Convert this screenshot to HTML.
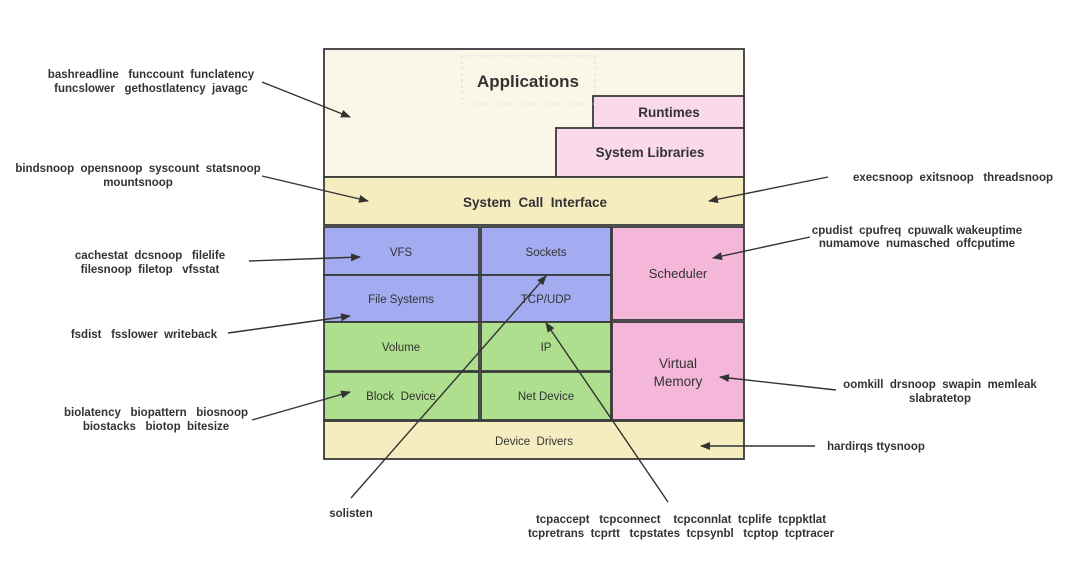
<!DOCTYPE html>
<html><head><meta charset="utf-8"><style>
html,body{margin:0;padding:0;background:#fff;}
svg{display:block;}
text{font-family:"Liberation Sans",sans-serif;fill:#333;}
.b{font-weight:bold;font-size:11.5px;}
</style></head><body>
<svg width="1080" height="570" viewBox="0 0 1080 570" xmlns="http://www.w3.org/2000/svg">
<defs><marker id="a" markerWidth="10" markerHeight="8" refX="9" refY="4" orient="auto" markerUnits="userSpaceOnUse"><path d="M0,0 L10,4 L0,8 Z" fill="#333"/></marker></defs>
<g stroke="#3a3a3a" stroke-width="1.8">
<rect x="324" y="49" width="420" height="128" fill="#fbf7e8"/>
<rect x="593" y="96" width="151" height="32" fill="#f9d9ea"/>
<rect x="556" y="128" width="188" height="49" fill="#f9d9ea"/>
<rect x="324" y="177" width="420" height="48" fill="#f5edbf"/>
<rect x="324" y="227" width="155" height="48" fill="#a3acf0"/>
<rect x="324" y="275" width="155" height="47" fill="#a3acf0"/>
<rect x="324" y="322" width="155" height="49" fill="#addf8e"/>
<rect x="324" y="372" width="155" height="48" fill="#addf8e"/>
<rect x="481" y="227" width="130" height="48" fill="#a3acf0"/>
<rect x="481" y="275" width="130" height="47" fill="#a3acf0"/>
<rect x="481" y="322" width="130" height="49" fill="#addf8e"/>
<rect x="481" y="372" width="130" height="48" fill="#addf8e"/>
<rect x="612" y="227" width="132" height="93" fill="#f4b6d9"/>
<rect x="612" y="322" width="132" height="98" fill="#f4b6d9"/>
<rect x="324" y="421" width="420" height="38" fill="#f5edbf"/>
</g>
<rect x="462" y="56" width="133" height="48" fill="none" stroke="#ddd" stroke-dasharray="3,3"/>
<g text-anchor="middle">
<text x="528" y="87" font-size="17" font-weight="bold">Applications</text>
<text x="669" y="117" font-weight="bold" font-size="13.5">Runtimes</text>
<text x="650" y="157" font-weight="bold" font-size="13.5">System Libraries</text>
<text x="535" y="207" font-weight="bold" font-size="13.5">System&#160; Call&#160; Interface</text>
<text x="401" y="256" font-size="11.5">VFS</text>
<text x="401" y="303" font-size="11.5">File Systems</text>
<text x="401" y="351" font-size="11.5">Volume</text>
<text x="401" y="400" font-size="11.5">Block&#160; Device</text>
<text x="546" y="256" font-size="11.5">Sockets</text>
<text x="546" y="303" font-size="11.5">TCP/UDP</text>
<text x="546" y="351" font-size="11.5">IP</text>
<text x="546" y="400" font-size="11.5">Net Device</text>
<text x="678" y="278" font-size="13">Scheduler</text>
<text x="678" y="368" font-size="13.5">Virtual</text>
<text x="678" y="386" font-size="13.5">Memory</text>
<text x="534" y="445" font-size="11.5">Device&#160; Drivers</text>
<text x="151" y="78" class="b">bashreadline&#160;&#160; funccount&#160; funclatency</text>
<text x="151" y="92" class="b">funcslower&#160;&#160; gethostlatency&#160; javagc</text>
<text x="138" y="172" class="b">bindsnoop&#160; opensnoop&#160; syscount&#160; statsnoop</text>
<text x="138" y="186" class="b">mountsnoop</text>
<text x="150" y="259" class="b">cachestat&#160; dcsnoop&#160;&#160; filelife</text>
<text x="150" y="273" class="b">filesnoop&#160; filetop&#160;&#160; vfsstat</text>
<text x="144" y="338" class="b">fsdist&#160;&#160; fsslower&#160; writeback</text>
<text x="156" y="416" class="b">biolatency&#160;&#160; biopattern&#160;&#160; biosnoop</text>
<text x="156" y="430" class="b">biostacks&#160;&#160; biotop&#160; bitesize</text>
<text x="953" y="181" class="b">execsnoop&#160; exitsnoop&#160;&#160; threadsnoop</text>
<text x="917" y="234" class="b">cpudist&#160; cpufreq&#160; cpuwalk wakeuptime</text>
<text x="917" y="247" class="b">numamove&#160; numasched&#160; offcputime</text>
<text x="940" y="388" class="b">oomkill&#160; drsnoop&#160; swapin&#160; memleak</text>
<text x="940" y="402" class="b">slabratetop</text>
<text x="876" y="450" class="b">hardirqs ttysnoop</text>
<text x="351" y="517" class="b">solisten</text>
<text x="681" y="523" class="b">tcpaccept&#160;&#160; tcpconnect&#160;&#160;&#160; tcpconnlat&#160; tcplife&#160; tcppktlat</text>
<text x="681" y="537" class="b">tcpretrans&#160; tcprtt&#160;&#160; tcpstates&#160; tcpsynbl&#160;&#160; tcptop&#160; tcptracer</text>
</g>
<g stroke="#333" stroke-width="1.4" fill="none" marker-end="url(#a)">
<line x1="262" y1="82" x2="350" y2="117"/>
<line x1="262" y1="176" x2="368" y2="201"/>
<line x1="828" y1="177" x2="709" y2="201"/>
<line x1="249" y1="261" x2="360" y2="257"/>
<line x1="228" y1="333" x2="350" y2="316"/>
<line x1="810" y1="237" x2="713" y2="258"/>
<line x1="836" y1="390" x2="720" y2="377"/>
<line x1="252" y1="420" x2="350" y2="392"/>
<line x1="815" y1="446" x2="701" y2="446"/>
<line x1="351" y1="498" x2="546" y2="276"/>
<line x1="668" y1="502" x2="546" y2="323"/>
</g>
</svg>
</body></html>
